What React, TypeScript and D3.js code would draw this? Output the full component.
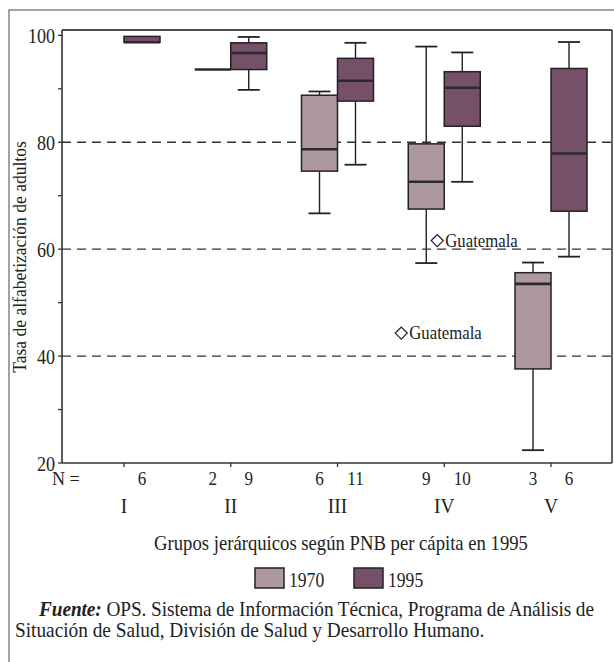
import React from "react";
import * as d3 from "d3";

// Income groups (by GNP per capita, 1995) and the two survey years
const groups = ["I", "II", "III", "IV", "V"];
const seriesNames = ["1970", "1995"];
const seriesColors = ["#ae98a0", "#765068"];

// Number of countries in each group and year
const n1970: (number | null)[] = [null, 2, 6, 9, 3];
const n1995: (number | null)[] = [6, 9, 11, 10, 6];

// Box statistics per group: [min, q1, median, q3, max] (adult literacy %)
const box1970: (number[] | null)[] = [
  null,
  [93.6, 93.6, 93.6, 93.6, 93.6],
  [66.7, 74.6, 78.7, 88.8, 89.5],
  [57.4, 67.5, 72.6, 79.7, 97.9],
  [22.4, 37.6, 53.5, 55.6, 57.5],
];
const box1995: (number[] | null)[] = [
  [98.7, 98.7, 98.7, 99.8, 99.8],
  [89.8, 93.6, 96.7, 98.6, 99.7],
  [75.8, 87.7, 91.5, 95.7, 98.6],
  [72.6, 83.0, 90.2, 93.2, 96.8],
  [58.6, 67.1, 77.9, 93.8, 98.75],
];

// Outlying countries
const outlierGroup = ["IV", "IV"];
const outlierSeries = [1, 0];
const outlierValue = [61.6, 44.3];
const outlierLabel = ["Guatemala", "Guatemala"];

const yTicks = [20, 30, 40, 50, 60, 70, 80, 90, 100];
const yLabels = [20, 40, 60, 80, 100];
const gridValues = [40, 60, 80];

const W = 614;
const H = 662;
const plot = { left: 62, right: 612, top: 30, bottom: 463 };
const font = "'Liberation Serif', 'Times New Roman', serif";
const ink = "#222";

// Condensed serif text: horizontal squeeze around its anchor point
function T({
  x,
  y,
  size,
  sx = 1,
  anchor = "start",
  rotate = 0,
  children,
  ...rest
}: {
  x: number;
  y: number;
  size: number;
  sx?: number;
  anchor?: "start" | "middle" | "end";
  rotate?: number;
  children?: React.ReactNode;
  [k: string]: any;
}) {
  return (
    <text
      transform={`translate(${x},${y}) rotate(${rotate}) scale(${sx},1)`}
      fontSize={size}
      textAnchor={anchor}
      {...rest}
    >
      {children}
    </text>
  );
}

export default function App() {
  const y = d3.scaleLinear().domain([20, 101]).range([plot.bottom, plot.top]);
  const x = d3.scaleBand<string>().domain(groups).range([70.6, 604.4]).padding(0);
  const center = (g: string) => (x(g) as number) + x.bandwidth() / 2;
  const boxW = 36;
  const capW = 22;
  const boxLeft = (g: string, s: number) => center(g) - boxW + s * boxW;

  const allBoxes = [box1970, box1995];
  const allN = [n1970, n1995];
  const srcSx = 0.965;

  return (
    <svg
      width={W}
      height={H}
      style={{ position: "absolute", left: 0, top: 0, background: "#fff" }}
      fontFamily={font}
      fill={ink}
    >
      {/* outer frame */}
      <rect x={9} y={10} width={W} height={H} fill="none" stroke="#666" strokeWidth={1.2} />

      {/* dashed reference lines */}
      {gridValues.map((v) => (
        <line
          key={v}
          x1={plot.left}
          x2={plot.right}
          y1={y(v)}
          y2={y(v)}
          stroke="#333"
          strokeWidth={1.4}
          strokeDasharray="9 6"
        />
      ))}

      {/* boxes */}
      {allBoxes.map((boxes, s) =>
        boxes.map((b, i) => {
          if (!b) return null;
          const g = groups[i];
          const x0 = boxLeft(g, s);
          const cx = x0 + boxW / 2;
          const [mn, q1, md, q3, mx] = b;
          return (
            <g key={`${s}-${g}`}>
              {mx > q3 && (
                <>
                  <line x1={cx} x2={cx} y1={y(q3)} y2={y(mx)} stroke={ink} strokeWidth={1.4} />
                  <line x1={cx - capW / 2} x2={cx + capW / 2} y1={y(mx)} y2={y(mx)} stroke={ink} strokeWidth={1.8} />
                </>
              )}
              {mn < q1 && (
                <>
                  <line x1={cx} x2={cx} y1={y(q1)} y2={y(mn)} stroke={ink} strokeWidth={1.4} />
                  <line x1={cx - capW / 2} x2={cx + capW / 2} y1={y(mn)} y2={y(mn)} stroke={ink} strokeWidth={1.8} />
                </>
              )}
              <rect
                x={x0}
                y={y(q3)}
                width={boxW}
                height={Math.max(0, y(q1) - y(q3))}
                fill={seriesColors[s]}
                stroke={ink}
                strokeWidth={1.5}
              />
              <line x1={x0} x2={x0 + boxW} y1={y(md)} y2={y(md)} stroke="#2a2a2a" strokeWidth={2.6} />
            </g>
          );
        })
      )}

      {/* outliers */}
      {outlierValue.map((v, i) => {
        const ox = boxLeft(outlierGroup[i], outlierSeries[i]) - 7;
        const oy = y(v);
        const r = 6;
        return (
          <g key={i}>
            <path
              d={`M${ox},${oy - r}L${ox + r},${oy}L${ox},${oy + r}L${ox - r},${oy}Z`}
              fill="#fff"
              stroke={ink}
              strokeWidth={1.3}
            />
            <T x={ox + 8} y={oy + 6} size={18} sx={0.93}>
              {outlierLabel[i]}
            </T>
          </g>
        );
      })}

      {/* plot frame */}
      <line x1={plot.left} x2={plot.right} y1={plot.top} y2={plot.top} stroke="#111" strokeWidth={1.3} />
      <line x1={plot.right} x2={plot.right} y1={plot.top} y2={plot.bottom} stroke="#111" strokeWidth={1.3} />
      <line x1={plot.left} x2={plot.right} y1={plot.bottom} y2={plot.bottom} stroke="#333" strokeWidth={1.6} />
      <line x1={plot.left} x2={plot.left} y1={plot.top} y2={plot.bottom} stroke="#333" strokeWidth={1.6} />

      {/* y axis ticks and labels */}
      {yTicks.map((t) => (
        <line key={t} x1={plot.left - 4} x2={plot.left} y1={y(t)} y2={y(t)} stroke="#333" strokeWidth={1.3} />
      ))}
      {yLabels.map((t) => (
        <T key={t} x={55} y={y(t) + 7.5} size={22} sx={0.82} anchor="end">
          {t}
        </T>
      ))}
      <T x={26} y={257} size={19.5} sx={0.9} rotate={-90} anchor="middle">
        Tasa de alfabetización de adultos
      </T>

      {/* x axis ticks, counts and group labels */}
      {groups.map((g) => (
        <line key={g} x1={center(g)} x2={center(g)} y1={plot.bottom} y2={plot.bottom + 4} stroke="#333" strokeWidth={1.3} />
      ))}
      <T x={52} y={485} size={19} sx={0.95}>
        N =
      </T>
      {allN.map((ns, s) =>
        ns.map((n, i) =>
          n == null ? null : (
            <T key={`n${s}-${i}`} x={boxLeft(groups[i], s) + boxW / 2} y={485} size={19} sx={0.9} anchor="middle">
              {n}
            </T>
          )
        )
      )}
      {groups.map((g) => (
        <T key={`l${g}`} x={center(g)} y={513} size={20.5} sx={0.95} anchor="middle">
          {g}
        </T>
      ))}
      <T x={341} y={550} size={21} sx={0.89} anchor="middle">
        Grupos jerárquicos según PNB per cápita en 1995
      </T>

      {/* legend */}
      {seriesNames.map((name, s) => (
        <g key={name} transform={`translate(${255 + s * 99},568)`}>
          <rect width={29} height={20} fill={seriesColors[s]} stroke={ink} strokeWidth={1.5} />
          <T x={34} y={19} size={22} sx={0.8}>
            {name}
          </T>
        </g>
      ))}

      {/* source note */}
      <T x={39} y={616} size={20} sx={srcSx} textLength={555 / srcSx} lengthAdjust="spacing">
        <tspan fontWeight="bold" fontStyle="italic">Fuente:</tspan> OPS. Sistema de Información Técnica, Programa de Análisis de
      </T>
      <T x={15} y={637} size={20} sx={srcSx}>
        Situación de Salud, División de Salud y Desarrollo Humano.
      </T>
    </svg>
  );
}
